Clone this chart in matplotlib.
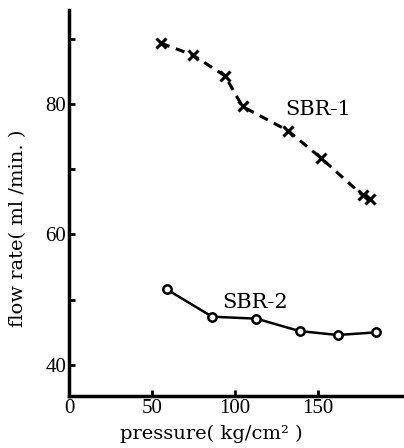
import matplotlib
matplotlib.use("Agg")
from matplotlib import pyplot as plt
from matplotlib.ticker import MultipleLocator

# SBR-1 (dashed, x markers)
sbr1_pressure = [55.4, 74.5, 94.0, 104.6, 132.0, 152.0, 177.0, 181.3]
sbr1_flow = [89.3, 87.5, 84.3, 79.6, 75.9, 71.7, 66.0, 65.4]

# SBR-2 (solid, open circles)
sbr2_pressure = [58.8, 86.3, 113.0, 139.0, 162.0, 185.0]
sbr2_flow = [51.6, 47.4, 47.1, 45.2, 44.6, 45.0]

x_ticks = [0, 50, 100, 150]
y_ticks = [40, 60, 80]

plt.rcParams["font.family"] = ["Liberation Serif", "DejaVu Serif"]
wide = ["DejaVu Serif"]

fig = plt.figure(figsize=(4.04, 4.48), dpi=100)
ax = fig.add_axes([0.171, 0.116, 0.829, 0.862])

ax.plot(sbr1_pressure, sbr1_flow, color="black", linestyle=(0, (3, 2.2)),
        linewidth=2.2, marker="x", markersize=7.5, markeredgewidth=2.2)
ax.plot(sbr2_pressure, sbr2_flow, color="black", linestyle="-",
        linewidth=1.8, marker="o", markersize=6, markerfacecolor="white",
        markeredgewidth=1.8)

ax.text(150, 79.1, "SBR-1", fontsize=15, family=wide, ha="center", va="center")
ax.text(112, 49.6, "SBR-2", fontsize=15, family=wide, ha="center", va="center")

ax.set_xlim(0, 202)
ax.set_ylim(35.25, 94.4)
ax.set_xticks(x_ticks)
ax.set_yticks(y_ticks)
ax.yaxis.set_minor_locator(MultipleLocator(10))
ax.tick_params(axis="both", which="both", direction="in", width=2, labelsize=15)
ax.tick_params(axis="both", which="major", length=4, pad=2)
ax.tick_params(axis="y", which="minor", length=4)

for side in ["top", "right"]:
    ax.spines[side].set_visible(False)
for side in ["left", "bottom"]:
    ax.spines[side].set_linewidth(2.5)

ax.set_xlabel("pressure( kg/cm² )", fontsize=14, family=wide)
ax.set_ylabel("flow rate( ml /min. )", fontsize=14, family=wide)
ax.xaxis.set_label_coords(0.424, -0.075)
ax.yaxis.set_label_coords(-0.125, 0.435)

fig.savefig("out.png", dpi=100)
